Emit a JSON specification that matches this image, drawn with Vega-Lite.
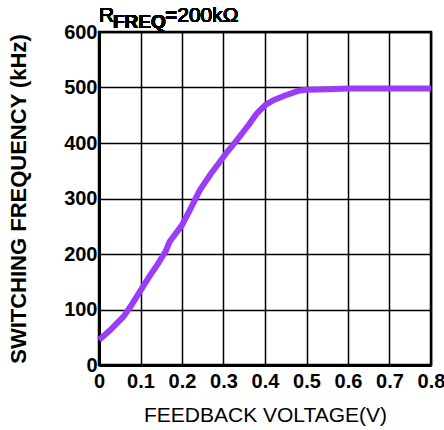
{
  "$schema": "https://vega.github.io/schema/vega-lite/v6.json",
  "width": 332,
  "height": 333,
  "autosize": "none",
  "padding": {"left": 99, "top": 32, "right": 13, "bottom": 65},
  "background": "white",
  "config": {
    "view": {"stroke": "black", "strokeWidth": 2.5},
    "font": "Liberation Sans"
  },
  "data": {
    "values": [
      {"v": 0.0, "f": 45},
      {"v": 0.03, "f": 65},
      {"v": 0.06, "f": 88},
      {"v": 0.08, "f": 110},
      {"v": 0.1, "f": 134},
      {"v": 0.12, "f": 158},
      {"v": 0.14, "f": 180},
      {"v": 0.16, "f": 204},
      {"v": 0.17, "f": 222},
      {"v": 0.2, "f": 252},
      {"v": 0.22, "f": 281},
      {"v": 0.243, "f": 315},
      {"v": 0.27, "f": 345},
      {"v": 0.29, "f": 365},
      {"v": 0.31, "f": 385},
      {"v": 0.33, "f": 403},
      {"v": 0.36, "f": 432},
      {"v": 0.38, "f": 453},
      {"v": 0.4, "f": 468},
      {"v": 0.42, "f": 477},
      {"v": 0.45, "f": 486},
      {"v": 0.48, "f": 494},
      {"v": 0.5, "f": 496},
      {"v": 0.55, "f": 497},
      {"v": 0.6, "f": 498},
      {"v": 0.7, "f": 498},
      {"v": 0.8, "f": 498}
    ]
  },
  "layer": [
    {
      "mark": {"type": "line", "color": "#9B3DF7", "strokeWidth": 6, "strokeCap": "butt", "strokeJoin": "round"},
      "encoding": {
        "x": {
          "field": "v", "type": "quantitative",
          "scale": {"domain": [0, 0.8], "nice": false, "zero": false},
          "axis": {
            "values": [0, 0.1, 0.2, 0.3, 0.4, 0.5, 0.6, 0.7, 0.8],
            "format": ".1~f",
            "title": "FEEDBACK VOLTAGE(V)",
            "grid": true, "gridColor": "black", "gridWidth": 1.5, "gridOpacity": 1,
            "domainColor": "black", "domainWidth": 3,
            "ticks": false,
            "labelFont": "Liberation Sans", "labelFontWeight": "bold", "labelFontSize": 20, "labelColor": "black",
            "labelPadding": 6,
            "labelFlush": false,
            "titleFont": "Liberation Sans", "titleFontWeight": "normal", "titleFontSize": 21, "titleColor": "black",
            "titlePadding": 13
          }
        },
        "y": {
          "field": "f", "type": "quantitative",
          "scale": {"domain": [0, 600], "nice": false},
          "axis": {
            "values": [0, 100, 200, 300, 400, 500, 600],
            "title": "SWITCHING FREQUENCY (kHz)",
            "grid": true, "gridColor": "black", "gridWidth": 1.5, "gridOpacity": 1,
            "domainColor": "black", "domainWidth": 3,
            "ticks": false,
            "labelFont": "Liberation Sans", "labelFontWeight": "bold", "labelFontSize": 20, "labelColor": "black",
            "labelPadding": 2,
            "labelFlush": false,
            "titleFont": "Liberation Sans", "titleFontWeight": "bold", "titleFontSize": 22, "titleColor": "black",
            "titlePadding": 33
          }
        }
      }
    },
    {
      "mark": {"type": "text", "text": "R", "font": "Liberation Sans", "fontSize": 21, "fontWeight": "normal", "align": "left", "baseline": "alphabetic", "dx": 0, "dy": -10, "color": "black"},
      "encoding": {"x": {"datum": 0, "type": "quantitative"}, "y": {"datum": 600, "type": "quantitative"}}
    },
    {
      "mark": {"type": "text", "text": "FREQ", "font": "Liberation Sans", "fontSize": 19, "fontWeight": "bold", "align": "left", "baseline": "alphabetic", "dx": 14, "dy": -4, "color": "black"},
      "encoding": {"x": {"datum": 0, "type": "quantitative"}, "y": {"datum": 600, "type": "quantitative"}}
    },
    {
      "mark": {"type": "text", "text": "=200kΩ", "font": "Liberation Sans", "fontSize": 21, "fontWeight": "normal", "align": "left", "baseline": "alphabetic", "dx": 66, "dy": -10, "color": "black"},
      "encoding": {"x": {"datum": 0, "type": "quantitative"}, "y": {"datum": 600, "type": "quantitative"}}
    }
  ]
}
